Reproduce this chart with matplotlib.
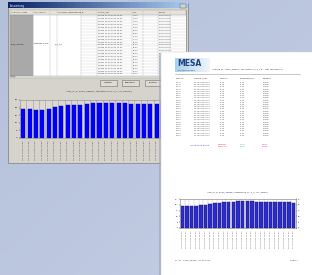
import numpy as np
import matplotlib.pyplot as plt
from matplotlib.patches import Rectangle

# Messwerte (Stundenwerte) der Messstelle
werte = [18.9, 18.9, 18.7, 18.7, 19.4, 20.2, 20.8, 21.4, 21.7, 22.0, 22.4, 22.8, 23.0,
         22.9, 22.9, 22.9, 22.7, 22.5, 22.3, 22.2, 22.1, 22.1, 22.0, 22.0, 21.9]
zeiten = ["16.10.2012 00:00", "16.10.2012 01:00", "16.10.2012 02:00", "16.10.2012 03:00",
          "16.10.2012 04:00", "16.10.2012 05:00", "16.10.2012 06:00", "16.10.2012 07:00",
          "16.10.2012 08:00", "16.10.2012 09:00", "16.10.2012 10:00", "16.10.2012 11:00",
          "16.10.2012 12:00", "16.10.2012 13:00", "16.10.2012 14:00", "16.10.2012 15:00",
          "16.10.2012 16:00", "16.10.2012 17:00", "16.10.2012 18:00", "16.10.2012 19:00",
          "16.10.2012 20:00", "16.10.2012 21:00", "16.10.2012 22:00", "16.10.2012 23:00",
          "17.10.2012 00:00"]
nummern = ["21845", "21846", "21847", "21848", "21849", "21850", "21851", "21852", "21853",
           "21854", "21855", "21856", "21857", "21858", "21859", "21860", "21861", "21862",
           "21863", "21864", "21865", "21866", "21867", "21868", "21869"]
y_ticks = [0, 5, 10, 15, 20, 25]

fenster_kopf = ["Auftrag nr / Kunde", "Ort / Adresse", "Messstelle / Beschreibung", "Nr", "Datum / Zeit", "Wert", "Grenzw."]
bericht_kopf = ["Mess-ID", "Datum / Zeit", "Ist-Wert", "Grenzwert/Soll", "Zustand"]
titel = "Auft_nr_a: 3230_28838 / Messstelle nr: 2_T_AR (Temp.)"
kopfzeile = "Auftrag nr.: 3230_28838 - Messstelle: 2_T_AR - Luft Temperatur"

W, H = 312, 275
fig = plt.figure(figsize=(W / 100, H / 100), dpi=100)


def box(x, y, w, h):
    return [x / W, 1 - (y + h) / H, w / W, h / H]


# Hintergrund
bg = fig.add_axes([0, 0, 1, 1])
bg.set_xlim(0, W)
bg.set_ylim(H, 0)
bg.axis("off")
gx, gy = np.meshgrid(np.linspace(0, 1, 80), np.linspace(0, 1, 80))
grad = 0.5 * gx + 0.5 * gy + 0.25 * np.exp(-((gx - gy * 0.9 - 0.35) ** 2) / 0.01)
bg.imshow(grad, extent=[0, W, H, 0], cmap=plt.matplotlib.colors.LinearSegmentedColormap.from_list(
    "b", ["#b4c0da", "#c6d0e6"]), aspect="auto", zorder=0)

# Fenster
bg.add_patch(Rectangle((8, 3), 180, 160, fc="#d6d3cc", ec="#8a8a8a", lw=0.6, zorder=1))
tb = np.linspace(0, 1, 50).reshape(1, -1)
bg.imshow(tb, extent=[8, 188, 8.5, 3], cmap=plt.matplotlib.colors.LinearSegmentedColormap.from_list(
    "t", ["#0a246a", "#a6caf0"]), aspect="auto", zorder=2)
bg.text(10, 5.8, "Auswertung", fontsize=1.8, color="white", va="center", zorder=3)
bg.add_patch(Rectangle((180, 4), 6, 3.5, fc="#d6d3cc", ec="#555555", lw=0.3, zorder=3))
bg.add_patch(Rectangle((10, 10), 176, 67, fc="white", ec="#808080", lw=0.5, zorder=2))
bg.add_patch(Rectangle((10, 10), 176, 4.5, fc="#e4e2dc", ec="#a0a0a0", lw=0.3, zorder=3))
bg.add_patch(Rectangle((10, 14.5), 23, 61, fc="#a9a9a9", ec="#909090", lw=0.3, zorder=3))
spalten_x = [33, 50, 57, 81, 97, 132, 143, 158, 170]
for x in spalten_x:
    bg.plot([x, x], [10, 75.5], color="#c0c0c0", lw=0.3, zorder=3)
for i, x in enumerate([11, 34, 58, 82, 98, 133, 159]):
    bg.text(x, 12.3, fenster_kopf[i], fontsize=1.3, va="center", color="#333333", zorder=4, clip_on=True)
for i in range(21):
    y = 14.5 + i * 2.9
    bg.plot([81, 186], [y, y], color="#c8c8c8", lw=0.25, zorder=3)
    bg.text(98, y + 1.45, nummern[i] + " " + zeiten[i], fontsize=1.4, va="center", color="#333333", zorder=4)
    bg.text(133, y + 1.45, "%.2f" % werte[i], fontsize=1.4, va="center", color="#333333", zorder=4)
    bg.text(159, y + 1.45, "20,00 25,00", fontsize=1.4, va="center", color="#333333", zorder=4)
bg.text(11, 44, "3230_28838", fontsize=1.5, va="center", color="#222222", zorder=4)
bg.text(34, 44, "Neubau Halle", fontsize=1.5, va="center", color="#222222", zorder=4)
bg.text(55, 44, "2_T_AR", fontsize=1.5, va="center", color="#222222", zorder=4)
bg.add_patch(Rectangle((10, 75.5), 176, 2, fc="#e4e2dc", ec="#a0a0a0", lw=0.3, zorder=4))
bg.add_patch(Rectangle((11, 75.8), 4, 1.5, fc="#d6d3cc", ec="#707070", lw=0.3, zorder=4))
for x0, lab in [(100, "Auswahl"), (122, "Speichern"), (145, "Drucken")]:
    bg.add_patch(Rectangle((x0, 80), 17, 5.5, fc="#dedbd4", ec="#707070", lw=0.4, zorder=3))
    bg.text(x0 + 8.5, 82.8, lab, fontsize=1.5, ha="center", va="center", zorder=4)
bg.text(99.5, 91, titel, fontsize=1.7, ha="center", va="center", color="#222222", zorder=3)

pos = np.arange(len(werte))

# Diagramm im Fenster
ax1 = fig.add_axes(box(20, 100, 159, 38))
ax1.set_zorder(1)
ax1.set_facecolor("#dcd9d3")
ax1.bar(pos, werte, width=0.63, color="#0000ff", edgecolor="#0000b0", lw=0.3, zorder=2)
ax1.set_xlim(-0.5, len(werte) - 0.5)
ax1.set_ylim(0, 25)
ax1.set_yticks(y_ticks)
ax1.set_yticklabels(y_ticks, fontsize=1.6)
ax1.set_xticks(pos)
ax1.set_xticklabels(zeiten, rotation=90, fontsize=1.6, color="#444444")
ax1.set_xticks(pos + 0.5, minor=True)
ax1.grid(which="minor", axis="x", color="#9a9a9a", lw=0.4)
ax1.tick_params(length=1, width=0.3, pad=0.8)
ax1.tick_params(which="minor", length=0)
for s in ax1.spines.values():
    s.set_linewidth(0.4)
    s.set_color("#888888")

# Bericht (Seite)
ov = fig.add_axes([0, 0, 1, 1])
ov.set_zorder(2)
ov.patch.set_alpha(0)
ov.set_xlim(0, W)
ov.set_ylim(H, 0)
ov.axis("off")
ov.add_patch(Rectangle((159, 53), 160, 230, fc="#9aa2b4", ec="none", alpha=0.6))
ov.add_patch(Rectangle((161, 52), 160, 230, fc="white", ec="#d0d0d0", lw=0.3))
lg = np.linspace(0, 1, 40).reshape(1, -1)
ov.imshow(lg, extent=[175, 210, 72, 58], cmap=plt.matplotlib.colors.LinearSegmentedColormap.from_list(
    "l", ["#a9d0ea", "#eef6fb"]), aspect="auto", zorder=2)
ov.text(177, 63.5, "MESA", fontsize=5.5, weight="bold", color="#1f3f7e", va="center", zorder=3)
ov.text(178, 70, "Messtechnik GmbH", fontsize=1.3, color="#1f3f7e", va="center", zorder=3)
ov.text(212, 69, kopfzeile, fontsize=1.6, color="#333333", va="center", zorder=3)
ov.plot([175, 300], [73.5, 73.5], color="#999999", lw=0.4, zorder=3)
kopf_x = [176, 194, 220, 240, 263]
for x, lab in zip(kopf_x, bericht_kopf):
    ov.text(x, 78.5, lab, fontsize=1.5, color="#333333", va="center", zorder=3)
for i in range(len(werte)):
    y = 82.5 + i * 2.2
    ov.text(176, y, nummern[i], fontsize=1.3, color="#444444", va="center", zorder=3)
    ov.text(194, y, zeiten[i], fontsize=1.3, color="#444444", va="center", zorder=3)
    ov.text(220, y, "%.2f" % werte[i], fontsize=1.3, color="#444444", va="center", zorder=3)
    ov.text(240, y, "25,00", fontsize=1.3, color="#444444", va="center", zorder=3)
    ov.text(263, y, "normal", fontsize=1.3, color="#444444", va="center", zorder=3)
ov.text(190, 145, "16.10.2012 00:00", fontsize=1.5, color="#3030d0", va="center", zorder=3)
ov.text(218, 144.5, "Minimum", fontsize=1.4, color="#e03030", va="center", zorder=3)
ov.text(218, 146.8, "Maximum", fontsize=1.4, color="#e03030", va="center", zorder=3)
ov.text(240, 144.5, "%.2f" % min(werte), fontsize=1.4, color="#20a060", va="center", zorder=3)
ov.text(240, 146.8, "%.2f" % max(werte), fontsize=1.4, color="#20a060", va="center", zorder=3)
ov.text(262, 144.5, "Status", fontsize=1.4, color="#d030c0", va="center", zorder=3)
ov.text(262, 146.8, "normal", fontsize=1.4, color="#d030c0", va="center", zorder=3)
ov.text(238, 192, titel, fontsize=1.6, ha="center", va="center", color="#333333", zorder=3)
ov.text(175, 260, "Pr. nr.: 3230_28838  16.10.2012", fontsize=1.6, color="#444444", va="center", zorder=3)
ov.text(290, 260, "Seite 1", fontsize=1.6, color="#444444", va="center", zorder=3)

# Diagramm im Bericht
ax2 = fig.add_axes(box(180, 199, 116, 29))
ax2.set_zorder(3)
ax2.set_facecolor("white")
ax2.bar(pos, werte, width=0.75, color="#2b2bd0", edgecolor="#101060", lw=0.3, zorder=2)
ax2.set_xlim(-0.5, len(werte) - 0.5)
ax2.set_ylim(0, 25)
ax2.set_yticks(y_ticks)
ax2.set_yticklabels(y_ticks, fontsize=1.4)
ax2.tick_params(axis="y", right=True, labelright=True)
ax2.set_xticks(pos)
ax2.set_xticklabels(zeiten, rotation=90, fontsize=1.4, color="#555555")
ax2.set_xticks(pos + 0.5, minor=True)
ax2.grid(which="minor", axis="x", color="#bbbbbb", lw=0.3)
ax2.tick_params(length=1, width=0.3, pad=0.6)
ax2.tick_params(which="minor", length=0)
for s in ax2.spines.values():
    s.set_linewidth(0.4)
    s.set_color("#777777")

fig.savefig("out.png", dpi=100)
